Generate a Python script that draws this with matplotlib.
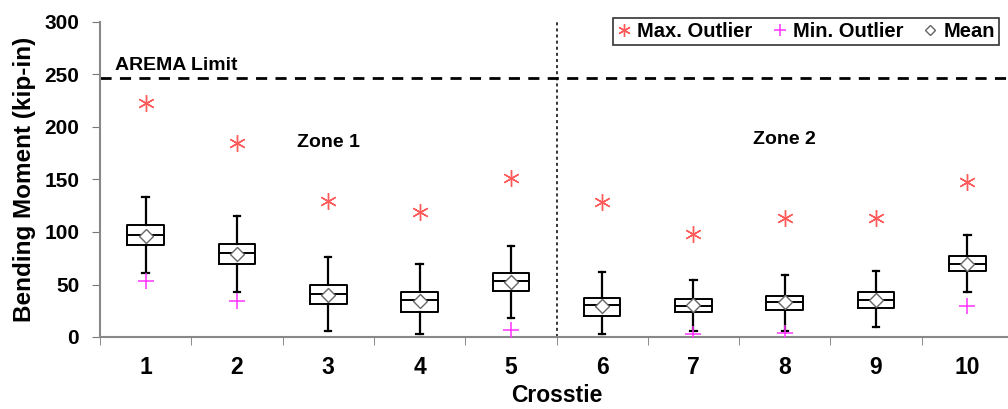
import matplotlib
matplotlib.use("Agg")
import matplotlib.pyplot as plt
from matplotlib.lines import Line2D

plt.rcParams['font.family'] = ['Liberation Sans', 'DejaVu Sans']
plt.rcParams['font.weight'] = 'bold'

# Bending moment statistics per crosstie (kip-in)
crossties = [1, 2, 3, 4, 5, 6, 7, 8, 9, 10]
whisker_low = [60.5, 42.4, 5.4, 3.2, 18.5, 2.6, 5.7, 5.7, 9.3, 42.4]
q1 = [87.8, 69.7, 31.9, 23.9, 43.9, 20.0, 24.2, 26.1, 28.0, 63.0]
median = [97.0, 79.9, 41.4, 35.7, 52.9, 30.5, 30.0, 33.8, 35.7, 69.4]
q3 = [106.3, 88.2, 49.3, 42.4, 61.1, 37.6, 36.0, 39.1, 42.4, 77.3]
whisker_high = [133.0, 115.5, 75.8, 69.1, 86.5, 61.7, 54.4, 59.5, 63.0, 97.0]
mean = [96.4, 79.2, 39.8, 34.1, 52.5, 29.6, 30.2, 33.1, 35.0, 70.0]
max_outlier = [223.3, 184.5, 129.5, 118.7, 151.7, 128.2, 97.7, 113.0, 113.0, 147.6]
min_outlier_x = [1, 2, 5, 7, 8, 10]
min_outlier = [53.1, 34.0, 6.4, 2.6, 4.2, 29.6]

arema_limit = 247
zone_labels = ["Zone 1", "Zone 2"]
zone_x = [3, 8]
zone_y = [185, 188]

fig = plt.figure(figsize=(10.08, 4.09), dpi=100)
ax = fig.add_axes([100 / 1008, 72 / 409, 913 / 1008, 315 / 409])

stats = []
for i in range(len(crossties)):
    stats.append(dict(whislo=whisker_low[i], q1=q1[i], med=median[i],
                      q3=q3[i], whishi=whisker_high[i], fliers=[]))

ax.bxp(stats, positions=crossties, widths=0.4, showfliers=False,
       capwidths=0.07,
       boxprops=dict(color='black', linewidth=1.4),
       medianprops=dict(color='black', linewidth=1.4),
       whiskerprops=dict(color='black', linewidth=1.6),
       capprops=dict(color='black', linewidth=1.6))

max_style = dict(marker=(6, 2, 0), color='#ff5a5a', markersize=12,
                 markeredgewidth=1.0, linestyle='none')
min_style = dict(marker='+', color='#ff33ff', markersize=11,
                 markeredgewidth=1.1, linestyle='none')
mean_style = dict(marker='D', markerfacecolor='white', markeredgecolor='#666666',
                  markersize=7, markeredgewidth=1.0, linestyle='none')

ax.plot(crossties, max_outlier, zorder=4, **max_style)
ax.plot(min_outlier_x, min_outlier, zorder=4, **min_style)
ax.plot(crossties, mean, zorder=5, **mean_style)

ax.axhline(arema_limit, color='black', linestyle=(0, (4, 3)), linewidth=2)
ax.text(0.66, arema_limit + 3, "AREMA Limit", fontsize=14, fontweight='bold',
        va='bottom', ha='left')
ax.plot([5.5, 5.5], [0, 300], color='black', linestyle=(0, (2, 2)),
        linewidth=1.1)

for label, x, y in zip(zone_labels, zone_x, zone_y):
    ax.text(x, y, label, fontsize=14, fontweight='bold', ha='center', va='center')

ax.set_xlim(0.5, 10.5)
ax.set_ylim(0, 300)
ax.set_yticks([0, 50, 100, 150, 200, 250, 300])
ax.set_xticks(crossties)
ax.set_xticklabels([str(c) for c in crossties])
ax.set_xticks([c + 0.5 for c in [0] + crossties], minor=True)
ax.tick_params(axis='x', which='major', length=0, pad=14, labelsize=16.5)
ax.tick_params(axis='x', which='minor', length=6, color='#777777', direction='out')
ax.tick_params(axis='y', length=6, color='#777777', labelsize=15, pad=9)
for lbl in ax.get_xticklabels() + ax.get_yticklabels():
    lbl.set_fontweight('bold')

for side in ['top', 'right']:
    ax.spines[side].set_visible(False)
for side in ['left', 'bottom']:
    ax.spines[side].set_color('#888888')
    ax.spines[side].set_linewidth(1.5)

ax.set_xlabel("Crosstie", fontsize=16.5, fontweight='bold', labelpad=3)
ax.set_ylabel("Bending Moment (kip-in)", fontsize=17.5, fontweight='bold', labelpad=6)

handles = [Line2D([], [], **{**max_style, 'markersize': 9}),
           Line2D([], [], **{**min_style, 'markersize': 8}),
           Line2D([], [], **{**mean_style, 'markersize': 5.5})]
leg = ax.legend(handles, ["Max. Outlier", "Min. Outlier", "Mean"], ncol=3,
                loc='upper left', bbox_to_anchor=(503 / 913, 1.045),
                frameon=True, fancybox=False, edgecolor='black',
                prop=dict(weight='bold', size=14.5), handlelength=0.7,
                handletextpad=0.3, columnspacing=1.0, borderpad=0.2)
leg.get_frame().set_linewidth(1.2)

fig.savefig("out.png", dpi=100)
